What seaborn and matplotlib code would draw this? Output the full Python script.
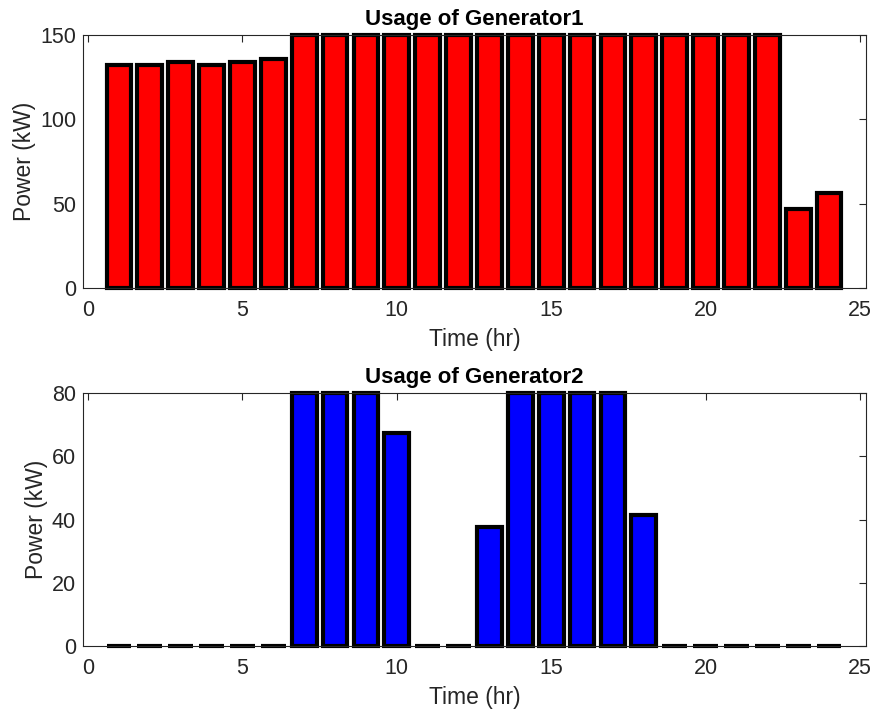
import matplotlib
matplotlib.use("Agg")
import matplotlib.pyplot as plt
import seaborn as sns
import numpy as np

hours = list(range(1, 25))
gen1 = [132.5, 132.5, 134, 132.5, 134, 136, 150, 150, 150, 150, 150, 150,
        150, 150, 150, 150, 150, 150, 150, 150, 150, 150, 47, 56.5]
gen2 = [0, 0, 0, 0, 0, 0, 80, 80, 80, 67.5, 0, 0,
        37.5, 80, 80, 80, 80, 41.5, 0, 0, 0, 0, 0, 0]

sns.set_style("white")
plt.rcParams['font.family'] = ['Liberation Sans', 'DejaVu Sans']

fig = plt.figure(figsize=(8.75, 7.13), dpi=100)
L, W = 83 / 875, (866 - 83) / 875
H = (288 - 35) / 713
ax1 = fig.add_axes([L, 1 - 288 / 713, W, H])
ax2 = fig.add_axes([L, 1 - 646 / 713, W, H])

axcol = '#262626'
for ax, vals, col, ymax, yt, title in [
        (ax1, gen1, '#ff0000', 150, [0, 50, 100, 150], 'Usage of Generator1'),
        (ax2, gen2, '#0000ff', 80, [0, 20, 40, 60, 80], 'Usage of Generator2')]:
    sns.barplot(x=hours, y=vals, native_scale=True, width=0.8, color=col,
                edgecolor='black', linewidth=3, saturation=1, ax=ax)
    for p in ax.patches:
        p.set_clip_on(False)
    ax.set_xlim(-0.162, 25.194)
    ax.set_ylim(0, ymax)
    ax.set_xticks([0, 5, 10, 15, 20, 25])
    ax.set_yticks(yt)
    ax.tick_params(direction='in', top=True, right=True, length=5, width=0.8,
                   labelsize=15.5, colors=axcol, labelcolor=axcol)
    ax.tick_params(axis='x', pad=9)
    ax.tick_params(axis='y', pad=5)
    for s in ax.spines.values():
        s.set_visible(True)
        s.set_color(axcol)
        s.set_linewidth(0.8)
    ax.set_xlabel('Time (hr)', fontsize=16.5, color=axcol, labelpad=5)
    ax.set_ylabel('Power (kW)', fontsize=16.5, color=axcol, labelpad=3)
    ax.set_title(title, fontsize=16, fontweight='bold', color='black', pad=7)

fig.savefig('out.png', dpi=100)
